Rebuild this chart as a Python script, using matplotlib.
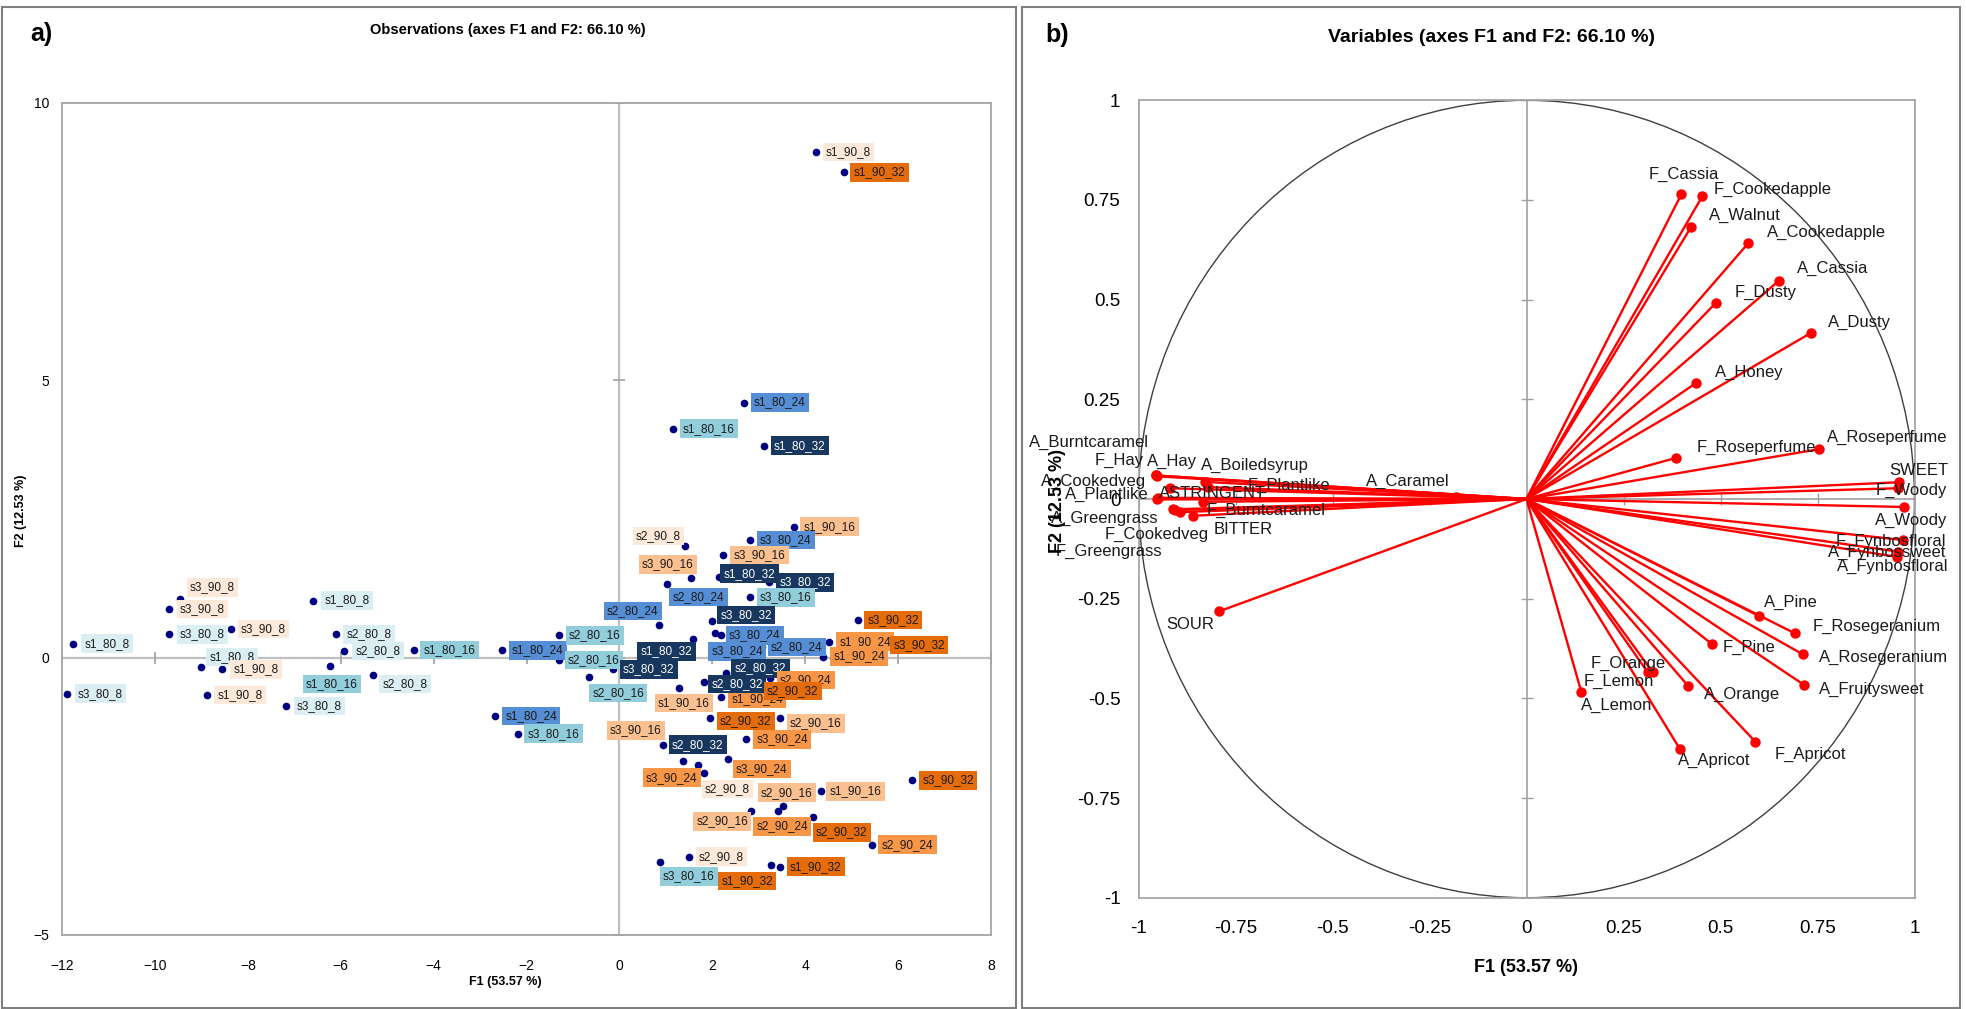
import numpy as np
import matplotlib.pyplot as plt
from matplotlib.patches import Rectangle, Circle

plt.rcParams['font.family'] = ['Liberation Sans', 'DejaVu Sans']

# ---------------- a) observations ----------------
obs_labels = ['s1_80_8', 's3_80_8', 's3_90_8', 's3_90_8', 's3_80_8', 's3_90_8', 's1_80_8', 's1_90_8',
              's1_90_8', 's1_80_8', 's2_80_8', 's2_80_8', 's1_80_16', 's3_80_8', 's2_80_8', 's1_80_16',
              's1_80_24', 's2_80_16', 's2_80_16', 's2_80_16', 's3_80_32', 's2_80_24', 's1_80_32', 's2_90_8',
              's3_90_16', 's2_80_24', 's1_90_16', 's1_80_24', 's1_80_16', 's1_80_32', 's1_90_16', 's3_80_24',
              's3_90_16', 's1_80_32', 's3_80_32', 's3_80_16', 's3_80_32', 's3_90_32', 's3_80_24', 's3_80_24',
              's1_90_24', 's1_90_24', 's3_90_32', 's2_80_24', 's1_90_24', 's2_80_32', 's2_80_32', 's2_90_24',
              's2_90_32', 's2_90_32', 's2_90_16', 's3_90_24', 's2_80_32', 's3_90_16', 's3_90_24', 's2_90_8',
              's3_90_24', 's1_90_16', 's2_90_16', 's2_90_24', 's2_90_16', 's2_90_32', 's2_90_24', 's3_90_32',
              's2_90_8', 's3_80_16', 's1_90_32', 's1_90_32', 's1_90_8', 's1_90_32', 's1_80_24', 's3_80_16']
obs_f1 = [-11.76, -11.89, -9.46, -9.70, -9.70, -8.36, -9.00, -8.55,
          -8.87, -6.59, -6.11, -5.92, -6.23, -7.18, -5.31, -4.43,
          -2.53, -1.30, -1.30, -0.65, -0.14, 0.85, 1.58, 1.41,
          1.54, 1.02, 1.28, 2.68, 1.15, 3.11, 3.75, 2.81,
          2.24, 2.14, 3.23, 2.81, 2.00, 5.13, 2.06, 2.19,
          4.52, 4.39, 5.70, 3.07, 2.19, 2.29, 1.83, 3.24,
          2.96, 1.95, 3.46, 2.73, 0.94, 1.37, 1.69, 1.82,
          2.34, 4.33, 3.52, 3.42, 2.84, 4.17, 5.43, 6.31,
          1.50, 0.87, 3.27, 3.46, 4.23, 4.83, -2.675, -2.19]
obs_f2 = [0.25, -0.65, 1.05, 0.88, 0.42, 0.52, -0.17, -0.21,
          -0.67, 1.03, 0.42, 0.12, -0.15, -0.87, -0.31, 0.14,
          0.13, 0.40, -0.04, -0.35, -0.21, 0.59, 0.33, 2.01,
          1.43, 1.33, -0.55, 4.60, 4.13, 3.82, 2.36, 2.12,
          1.85, 1.46, 1.36, 1.09, 0.66, 0.68, 0.44, 0.40,
          0.29, 0.02, 0.23, 0.19, -0.71, -0.28, -0.44, -0.37,
          -0.55, -1.09, -1.08, -1.47, -1.57, -1.87, -1.93, -2.08,
          -1.83, -2.41, -2.67, -2.77, -2.77, -2.88, -3.37, -2.21,
          -3.59, -3.69, -3.74, -3.77, 9.12, 8.75, -1.05, -1.37]
# label box offsets (pixels, left edge / vertical centre relative to the point)
obs_offsets = [(8, 0), (8, 0), (7, 12), (8, 0), (8, 0), (7, 0), (5, 10), (8, 0),
               (7, 0), (8, 0), (8, 0), (8, 0), (-27, -18), (8, 0), (7, -9), (7, 0),
               (7, 0), (7, 0), (6, 0), (0, -16), (7, 0), (-55, 14), (-55, -12), (-52, 10),
               (-52, 14), (3, -13), (-24, -15), (7, 0), (7, 0), (7, 0), (7, 0), (7, 0),
               (7, 0), (2, 3), (7, 0), (7, 0), (5, 6), (7, 0), (11, -2), (-13, -16),
               (7, 0), (7, 0), (6, 0), (6, 0), (7, -2), (6, 5), (4, -2), (7, -2),
               (7, -3), (7, -3), (7, -6), (7, 0), (6, 0), (-76, 31), (-55, -13), (-2, -16),
               (5, -10), (6, 0), (-25, 13), (-25, -15), (-58, -10), (0, -15), (7, 0), (7, 0),
               (7, 0), (0, -14), (-53, -16), (7, 0), (7, 0), (7, 0), (7, 0), (7, 0)]

group_colors = {'80_8': '#DAEEF3', '80_16': '#92CDDC', '80_24': '#558ED5', '80_32': '#17375E',
                '90_8': '#FDE9D9', '90_16': '#FAC090', '90_24': '#F79646', '90_32': '#E46C0A'}

x_ticks_a = [-12, -10, -8, -6, -4, -2, 0, 2, 4, 6, 8]
y_ticks_a = [-5, 0, 5, 10]

# ---------------- b) variables ----------------
var_names = ['F_Cassia', 'F_Cookedapple', 'A_Walnut', 'A_Cookedapple', 'A_Cassia', 'F_Dusty', 'A_Dusty',
             'A_Honey', 'F_Roseperfume', 'A_Roseperfume', 'SWEET', 'F_Woody', 'A_Woody', 'F_Fynbosfloral',
             'A_Fynbossweet', 'A_Fynbosfloral', 'A_Pine', 'F_Rosegeranium', 'A_Rosegeranium', 'A_Fruitysweet',
             'F_Pine', 'F_Orange', 'F_Lemon', 'A_Orange', 'A_Lemon', 'A_Apricot', 'F_Apricot', 'A_Caramel',
             'SOUR', 'A_Burntcaramel', 'F_Hay', 'A_Hay', 'A_Boiledsyrup', 'F_Plantlike', 'A_Cookedveg',
             'A_Plantlike', 'ASTRINGENT', 'A_Greengrass', 'F_Burntcaramel', 'F_Cookedveg', 'BITTER',
             'F_Greengrass']
var_f1 = [0.399, 0.453, 0.424, 0.571, 0.651, 0.488, 0.732,
          0.437, 0.385, 0.754, 0.960, 0.958, 0.973, 0.971,
          0.958, 0.954, 0.600, 0.692, 0.713, 0.715,
          0.477, 0.325, 0.312, 0.416, 0.141, 0.396, 0.590, -0.182,
          -0.793, -0.955, -0.955, -0.952, -0.829, -0.821, -0.953,
          -0.950, -0.919, -0.912, -0.833, -0.893, -0.859,
          -0.906]
var_f2 = [0.764, 0.759, 0.682, 0.641, 0.548, 0.492, 0.416,
          0.291, 0.103, 0.125, 0.042, 0.027, -0.020, -0.103,
          -0.132, -0.145, -0.294, -0.337, -0.390, -0.466,
          -0.363, -0.434, -0.434, -0.468, -0.483, -0.628, -0.609, 0.006,
          -0.282, 0.059, 0.059, 0.057, 0.043, 0.030, -0.001,
          0.003, 0.027, -0.026, -0.007, -0.033, -0.042,
          -0.028]
# label centre offsets in pixels
var_offsets = [(3, 20), (70, 7), (54, 12), (78, 11), (54, 12), (50, 10), (49, 11),
               (53, 11), (80, 11), (68, 12), (20, 12), (13, -2), (7, -13), (-12, -1),
               (-11, -1), (-4, -10), (32, 14), (82, 7), (80, -3), (68, -5),
               (37, -4), (-24, 9), (-29, -9), (54, -9), (35, -14), (34, -11), (55, -13), (-48, 15),
               (-29, -13), (-67, 33), (-37, 15), (15, 15), (50, 16), (81, 2), (-63, 18),
               (-51, 3), (43, -5), (-68, -9), (63, -9), (-23, -22), (50, -14),
               (-66, -41)]

ticks_b = [-1, -0.75, -0.5, -0.25, 0, 0.25, 0.5, 0.75, 1]

W, H = 1966, 1009
fig = plt.figure(figsize=(W / 100, H / 100), dpi=100)


def fx(x):
    return x / W


def fy(y):
    return 1 - y / H


frame_col = '#A6A6A6'
zero_col = '#BFBFBF'

# panel borders
fig.add_artist(Rectangle((fx(2), fy(1008)), fx(1014), (1001) / H, transform=fig.transFigure,
                         fill=False, ec='#7F7F7F', lw=1.5))
fig.add_artist(Rectangle((fx(1022), fy(1008)), fx(938), (1001) / H, transform=fig.transFigure,
                         fill=False, ec='#7F7F7F', lw=1.5))

# ---- panel a ----
ax = fig.add_axes([fx(62), fy(935), fx(929), 832 / H])
ax.set_xlim(-12, 8)
ax.set_ylim(-5, 10)
ax.set_xticks(x_ticks_a)
ax.set_yticks(y_ticks_a)
ax.tick_params(length=0, labelsize=10, colors='#000000')
ax.tick_params(axis='x', pad=17)
ax.tick_params(axis='y', pad=9)
for s in ax.spines.values():
    s.set_color(frame_col)
    s.set_linewidth(1.3)
ax.axhline(0, color=zero_col, lw=1.6, zorder=1)
ax.axvline(0, color=zero_col, lw=1.6, zorder=1)
ax.plot(x_ticks_a, np.zeros(len(x_ticks_a)), ls='none', marker='|', ms=9, mew=1.2, color='#A0A0A0', zorder=1)
ax.plot(np.zeros(len(y_ticks_a)), y_ticks_a, ls='none', marker='_', ms=9, mew=1.2, color='#A0A0A0', zorder=1)

ax.plot(obs_f1, obs_f2, ls='none', marker='o', ms=4.5, color='#000080', zorder=3)
for lab, x, y, (dx, dy) in zip(obs_labels, obs_f1, obs_f2, obs_offsets):
    key = lab.split('_', 1)[1]
    tc = 'white' if key == '80_32' else '#1A1A1A'
    ax.annotate(lab, (x, y), xytext=(dx + 3, dy), textcoords='offset pixels',
                ha='left', va='center', fontsize=8.5, color=tc, zorder=4,
                bbox=dict(boxstyle='square,pad=0.28', fc=group_colors[key], ec='none'))

fig.text(fx(41), fy(34), 'a)', fontsize=18, fontweight='bold', ha='center', va='center')
fig.text(fx(508), fy(30), 'Observations (axes F1 and F2: 66.10 %)', fontsize=10.5, fontweight='bold',
         ha='center', va='center')
fig.text(fx(505), fy(982), 'F1 (53.57 %)', fontsize=9, fontweight='bold', ha='center', va='center')
fig.text(fx(21), fy(511), 'F2 (12.53 %)', fontsize=9, fontweight='bold', ha='center', va='center',
         rotation=90)

# ---- panel b ----
bx = fig.add_axes([fx(1138.5), fy(897.7), fx(776), 797.4 / H])
bx.set_xlim(-1, 1)
bx.set_ylim(-1, 1)
bx.set_xticks(ticks_b)
bx.set_yticks(ticks_b)
bx.set_xticklabels(['%g' % t for t in ticks_b])
bx.set_yticklabels(['%g' % t for t in ticks_b])
bx.tick_params(length=0, labelsize=13.5, colors='#000000')
bx.tick_params(axis='x', pad=16)
bx.tick_params(axis='y', pad=13)
for s in bx.spines.values():
    s.set_color(frame_col)
    s.set_linewidth(1.3)
bx.axhline(0, color='#A0A0A0', lw=1.2, zorder=1)
bx.axvline(0, color='#A0A0A0', lw=1.2, zorder=1)
bx.plot(ticks_b, np.zeros(len(ticks_b)), ls='none', marker='|', ms=9, mew=1.0, color='#A0A0A0', zorder=1)
bx.plot(np.zeros(len(ticks_b)), ticks_b, ls='none', marker='_', ms=9, mew=1.0, color='#A0A0A0', zorder=1)
bx.add_patch(Circle((0, 0), 1, fill=False, ec='#3F3F3F', lw=1.0, zorder=2))

for name, x, y, (dx, dy) in zip(var_names, var_f1, var_f2, var_offsets):
    bx.plot([0, x], [0, y], color='#FF0000', lw=1.7, zorder=3)
    bx.plot(x, y, marker='o', ms=6.5, color='#FF0000', zorder=4)
    bx.annotate(name, (x, y), xytext=(dx, dy), textcoords='offset pixels',
                ha='center', va='center', fontsize=12, color='#1A1A1A', zorder=5)

fig.text(fx(1057), fy(35), 'b)', fontsize=18, fontweight='bold', ha='center', va='center')
fig.text(fx(1492), fy(38), 'Variables (axes F1 and F2: 66.10 %)', fontsize=14, fontweight='bold',
         ha='center', va='center')
fig.text(fx(1526), fy(967), 'F1 (53.57 %)', fontsize=13, fontweight='bold', ha='center', va='center')
fig.text(fx(1057), fy(501), 'F2 (12.53 %)', fontsize=13, fontweight='bold', ha='center', va='center',
         rotation=90)

fig.savefig('out.png', dpi=100)
